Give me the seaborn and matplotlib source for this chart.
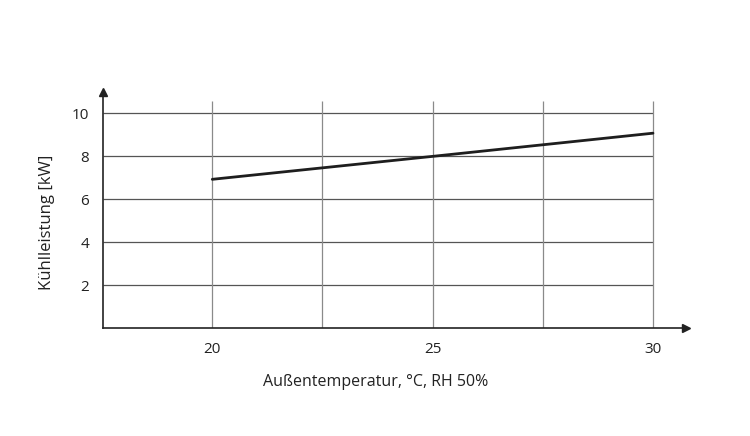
import numpy as np
import pandas as pd
import matplotlib
matplotlib.use("Agg")
import matplotlib.pyplot as plt
import seaborn as sns

# data
temp = [20, 25, 30]
power = [6.93, 8.0, 9.08]
x_ticks = [20, 25, 30]
x_grid = [20, 22.5, 25, 27.5, 30]
y_ticks = [2, 4, 6, 8, 10]

df = pd.DataFrame({"temp": temp, "power": power})

sns.set_style("white")
plt.rcParams['font.family'] = ['Open Sans', 'DejaVu Sans']

fig = plt.figure(figsize=(7.5, 4.36), dpi=100)
ax = fig.add_axes([0.1373, 0.2477, 0.7774, 0.5413])

xmin, xmax = 17.52, 30.75
ymin, ymax = 0, 11.0

ax.hlines(y_ticks, xmin, 30, color="#555555", lw=0.9)
ax.vlines(x_grid, 0, 10.6, color="#8a8a8a", lw=0.9)

sns.lineplot(data=df, x="temp", y="power", color="#1e1e1e", lw=2.0, ax=ax)

ax.set_xlim(xmin, xmax)
ax.set_ylim(ymin, ymax)
ax.set_xticks(x_ticks)
ax.set_yticks(y_ticks)
ax.tick_params(length=0, labelsize=11, colors="#222222", pad=10)

for s in ["top", "right"]:
    ax.spines[s].set_visible(False)
for s in ["bottom", "left"]:
    ax.spines[s].set_color("#222222")
    ax.spines[s].set_linewidth(1.2)

# axis arrows
ax.plot(1, 0, ">", color="#222222", ms=6, transform=ax.get_yaxis_transform(), clip_on=False)
ax.plot(0, 1, "^", color="#222222", ms=6, transform=ax.transAxes, clip_on=False)

ax.set_xlabel("Außentemperatur, °C, RH 50%", fontsize=11.5, color="#222222")
ax.set_ylabel("Kühlleistung [kW]", fontsize=12, color="#222222")
ax.xaxis.set_label_coords(0.468, -0.195)
ax.yaxis.set_label_coords(-0.082, 0.449)

fig.savefig("out.png", dpi=100)
